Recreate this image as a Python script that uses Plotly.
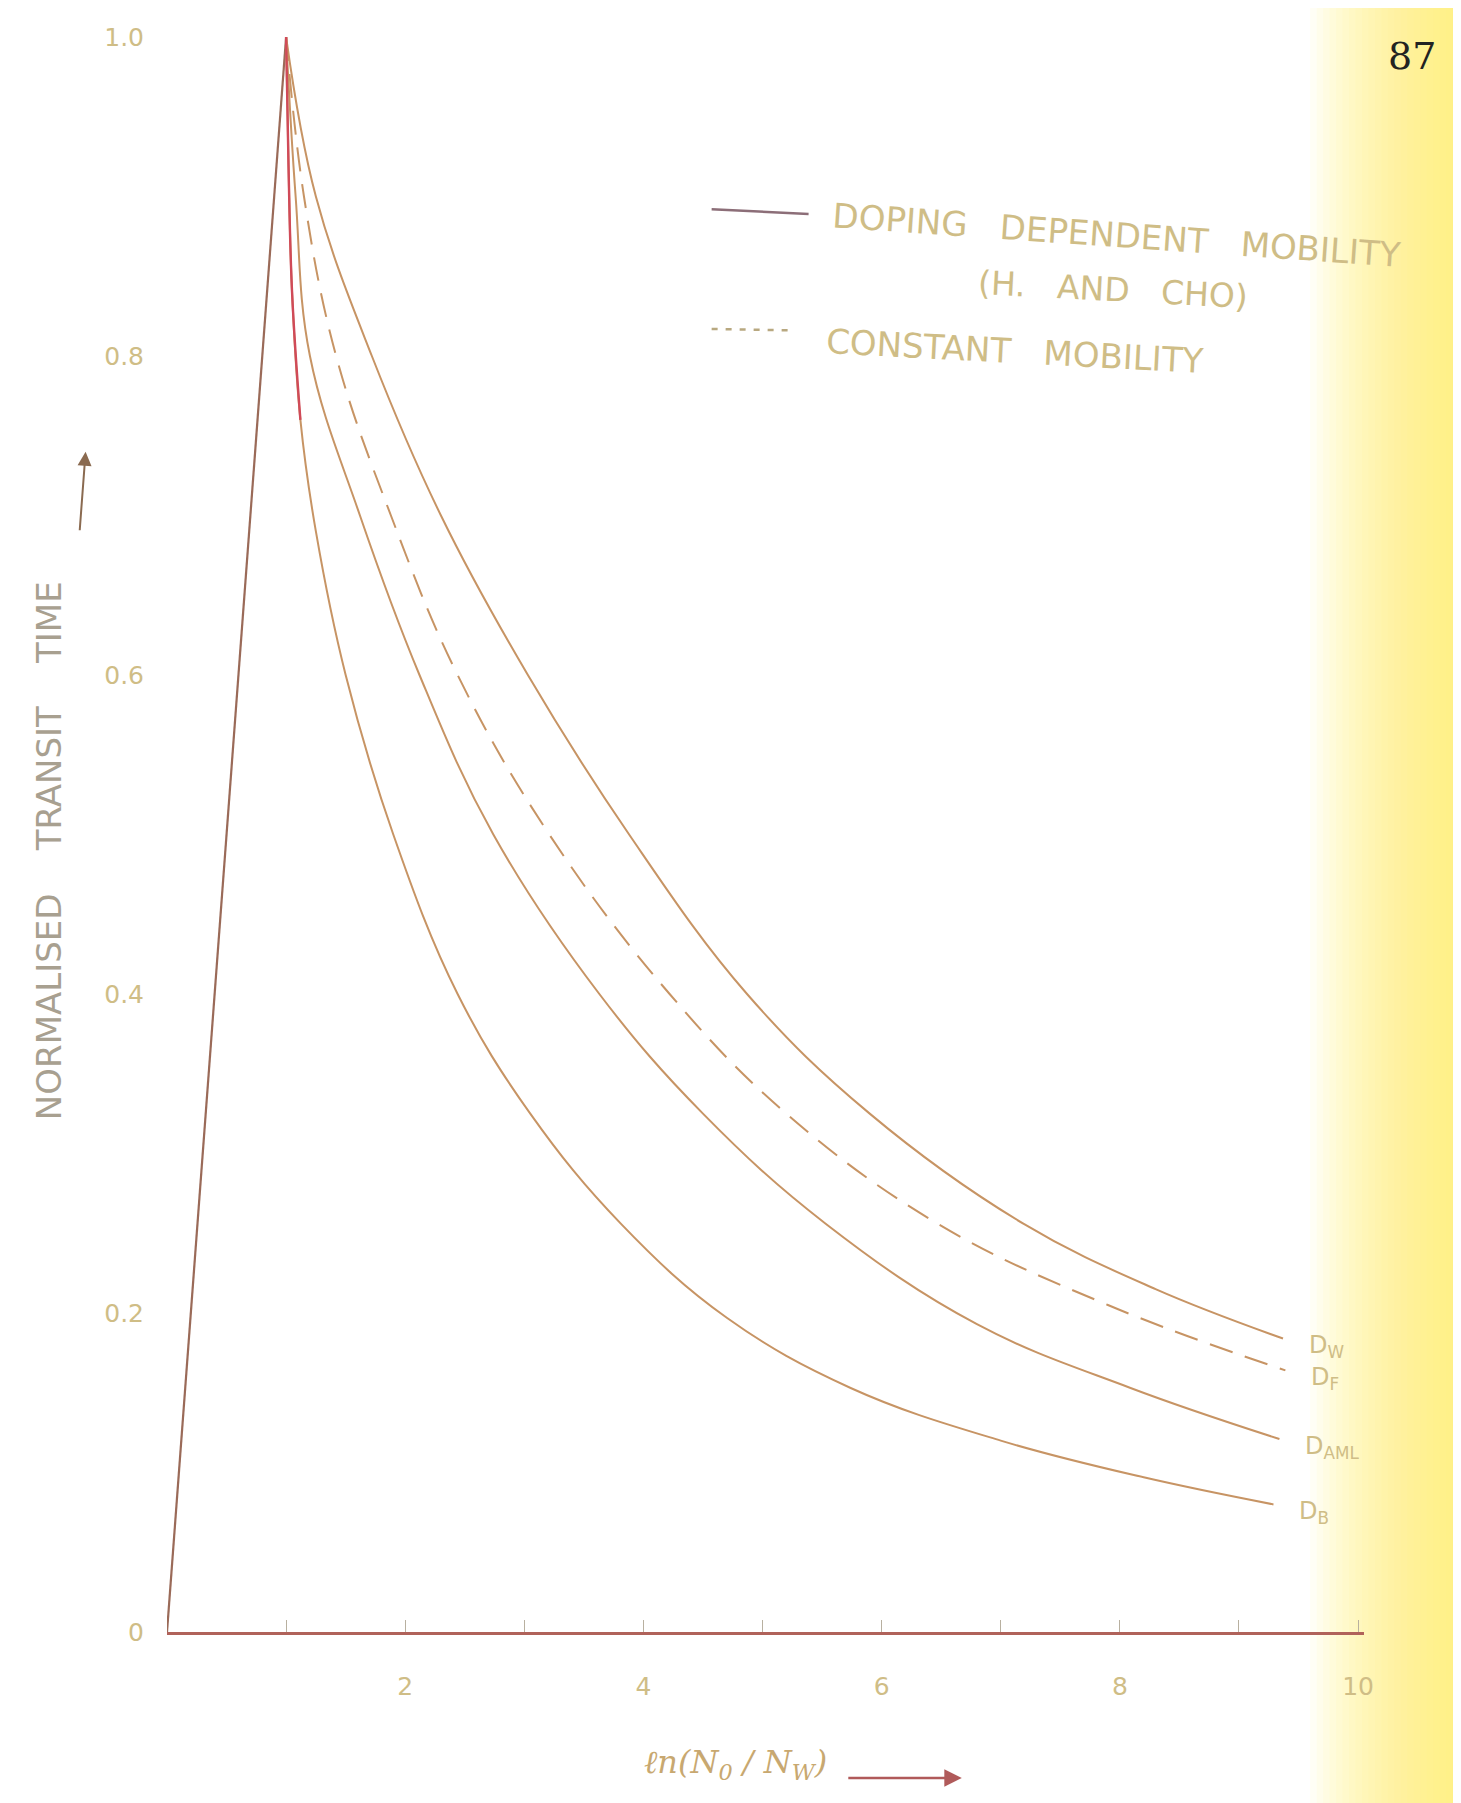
import plotly.graph_objects as go

# ---------------- data ----------------
rise_x = [0.0, 1.0]
rise_y = [0.0, 1.0]

db_x = [1.0, 1.02, 1.05, 1.12, 1.25, 1.50, 1.90, 2.44, 3.05, 3.81, 4.70, 5.74, 7.00, 8.20, 9.29]
db_y = [1.0, 0.92, 0.84, 0.76, 0.69, 0.60, 0.50, 0.40, 0.325, 0.256, 0.197, 0.153, 0.120, 0.097, 0.080]

daml_x = [1.0, 1.08, 1.20, 1.62, 2.12, 2.74, 3.63, 4.50, 5.53, 6.80, 8.09, 9.34]
daml_y = [1.0, 0.90, 0.80, 0.70, 0.60, 0.50, 0.40, 0.325, 0.256, 0.193, 0.153, 0.121]

df_x = [1.0, 1.15, 1.42, 1.88, 2.44, 3.21, 4.22, 5.20, 6.47, 7.90, 9.39]
df_y = [1.0, 0.90, 0.80, 0.70, 0.60, 0.50, 0.40, 0.325, 0.256, 0.205, 0.164]

dw_x = [1.0, 1.25, 1.72, 2.30, 3.03, 3.88, 4.87, 5.90, 7.19, 8.30, 9.37]
dw_y = [1.0, 0.90, 0.80, 0.70, 0.60, 0.50, 0.40, 0.325, 0.256, 0.215, 0.184]

curve_labels = ["D<sub>W</sub>", "D<sub>F</sub>", "D<sub>AML</sub>", "D<sub>B</sub>"]
x_tickvals = [1, 2, 3, 4, 5, 6, 7, 8, 9, 10]
x_ticktext = ["", "2", "", "4", "", "6", "", "8", "", "10"]
y_tickvals = [0, 0.2, 0.4, 0.6, 0.8, 1.0]
y_ticktext = ["0", "0.2", "0.4", "0.6", "0.8", "1.0"]

# ---------------- style ----------------
CURVE = "#c79464"
RISE = "#9a6a58"
TEXT = "#cfbd86"
FONT = "DejaVu Sans"

fig = go.Figure()

fig.add_trace(go.Scatter(x=rise_x, y=rise_y, mode="lines",
                         line=dict(color=RISE, width=2.2), hoverinfo="skip"))

series = [(dw_x, dw_y, "solid"), (df_x, df_y, "24px,13px"),
          (daml_x, daml_y, "solid"), (db_x, db_y, "solid")]
for sx, sy, dash in series:
    fig.add_trace(go.Scatter(x=sx, y=sy, mode="lines",
                             line=dict(color=CURVE, width=2, dash=dash, shape="spline", smoothing=1.1)))

# red upper part of D_B near the peak
fig.add_trace(go.Scatter(x=db_x[:4], y=db_y[:4], mode="lines",
                         line=dict(color="#d04a58", width=2.4, shape="spline", smoothing=1.1)))

# curve end labels
for (sx, sy, _), lab in zip(series, curve_labels):
    fig.add_annotation(x=sx[-1], y=sy[-1], text=lab, showarrow=False,
                       xanchor="left", xshift=24, yshift=-8,
                       font=dict(family=FONT, size=24, color=TEXT))

# legend (drawn)
fig.add_shape(type="line", xref="paper", yref="paper", x0=0.455, x1=0.536, y0=0.892, y1=0.889,
              line=dict(color="#8c6e78", width=2.5))
fig.add_shape(type="line", xref="paper", yref="paper", x0=0.455, x1=0.525, y0=0.817, y1=0.816,
              line=dict(color="#b8a880", width=2.5, dash="6px,8px"))
fig.add_annotation(xref="paper", yref="paper", x=0.553, y=0.876, xanchor="left", yanchor="middle",
                   text="DOPING   DEPENDENT   MOBILITY", showarrow=False, textangle=4,
                   font=dict(family=FONT, size=34, color=TEXT))
fig.add_annotation(xref="paper", yref="paper", x=0.79, y=0.842, xanchor="center", yanchor="middle",
                   text="(H.   AND   CHO)", showarrow=False, textangle=3,
                   font=dict(family=FONT, size=33, color=TEXT))
fig.add_annotation(xref="paper", yref="paper", x=0.548, y=0.803, xanchor="left", yanchor="middle",
                   text="CONSTANT   MOBILITY", showarrow=False, textangle=3,
                   font=dict(family=FONT, size=34, color=TEXT))

# y axis title with arrow
fig.add_annotation(xref="paper", yref="paper", x=-0.098, y=0.49, xanchor="center", yanchor="middle",
                   text="NORMALISED    TRANSIT    TIME", showarrow=False, textangle=-90,
                   font=dict(family=FONT, size=34, color="#a8a090"))
fig.add_annotation(xref="paper", yref="paper", x=-0.068, y=0.74, text="", showarrow=True,
                   ax=-6, ay=80, arrowhead=2, arrowsize=1.4, arrowwidth=2, arrowcolor="#8a6a50")

# x axis title with arrow
fig.add_annotation(xref="paper", yref="paper", x=0.475, y=-0.083, xanchor="center", yanchor="middle",
                   text="<i>ℓn(N<sub>0</sub> / N<sub>W</sub>)</i>", showarrow=False,
                   font=dict(family="DejaVu Serif", size=32, color="#c8a870"))
fig.add_annotation(xref="paper", yref="paper", x=0.664, y=-0.0915, text="", showarrow=True,
                   ax=-115, ay=0, arrowhead=2, arrowsize=1.4, arrowwidth=2.5, arrowcolor="#b05a5a")

# page number
fig.add_annotation(xref="paper", yref="paper", x=1.04, y=1.003, xanchor="center", yanchor="top",
                   text="87", showarrow=False,
                   font=dict(family="DejaVu Serif", size=38, color="#222222"))

# yellow page tint on right edge (stepped gradient)
steps = 24
for i in range(steps):
    x0 = 0.955 + i * (1.085 - 0.955) / steps
    fig.add_shape(type="rect", xref="paper", yref="paper", x0=x0, x1=1.1, y0=-0.15, y1=1.03,
                  fillcolor="#fff070", opacity=0.07, line=dict(width=0), layer="below")

fig.update_layout(
    width=1461, height=1803,
    margin=dict(l=159, r=105, t=29, b=179),
    paper_bgcolor="white", plot_bgcolor="rgba(0,0,0,0)",
    showlegend=False,
    xaxis=dict(range=[0, 10.05], showgrid=False, zeroline=False, showline=True,
               linecolor="#b0625a", linewidth=3, ticks="inside", ticklen=12, tickwidth=1,
               tickcolor="#b8b0a0", tickvals=x_tickvals, ticktext=x_ticktext,
               ticklabelstandoff=30,
               tickfont=dict(family=FONT, size=25, color=TEXT)),
    yaxis=dict(range=[0, 1.0], showgrid=False, zeroline=False, showline=False,
               tickvals=y_tickvals, ticktext=y_ticktext, ticks="", ticklabelstandoff=22,
               tickfont=dict(family=FONT, size=25, color=TEXT)),
)

fig.write_html("out.html")
